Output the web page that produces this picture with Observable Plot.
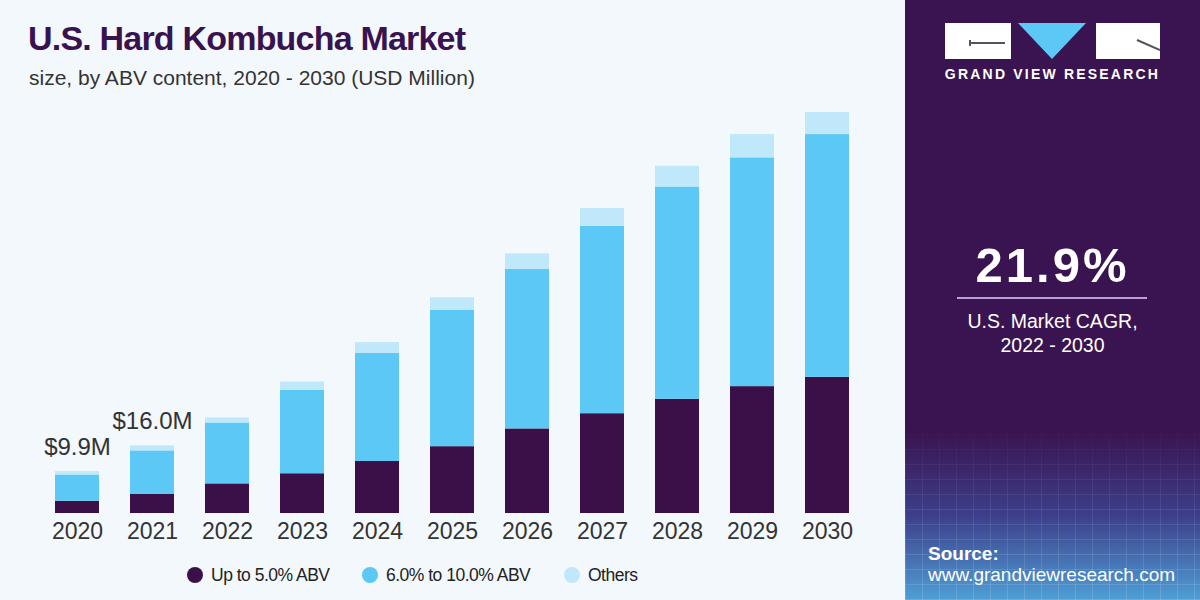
<!DOCTYPE html>
<html>
<head>
<meta charset="utf-8">
<script src="https://cdn.jsdelivr.net/npm/d3@7"></script>
<script src="https://cdn.jsdelivr.net/npm/@observablehq/plot@0.6"></script>
<style>
  html, body { margin: 0; padding: 0; }
  body { width: 1200px; height: 600px; overflow: hidden; font-family: "Liberation Sans", Arial, sans-serif; }
  #left { position: absolute; left: 0; top: 0; width: 905px; height: 600px; background: #f3f8fc; }
  #right { position: absolute; left: 905px; top: 0; width: 295px; height: 600px;
    background: linear-gradient(180deg, #3a1450 0%, #3a1450 72%, #3d3f8c 86%, #4f9fd6 100%); overflow: hidden; }
  #grid { position: absolute; left: 0; right: 0; top: 420px; bottom: 0;
    background:
      repeating-linear-gradient(90deg, rgba(255,255,255,0.14) 0 1px, transparent 1px 17px),
      repeating-linear-gradient(0deg, rgba(255,255,255,0.14) 0 1px, transparent 1px 15px);
    -webkit-mask-image: linear-gradient(180deg, transparent 0%, rgba(0,0,0,0.5) 40%, #000 100%);
    mask-image: linear-gradient(180deg, transparent 0%, rgba(0,0,0,0.5) 40%, #000 100%); }
  #title { position: absolute; left: 28px; top: 19px; font-size: 34px; font-weight: bold; color: #3a1250; letter-spacing: -0.8px; line-height: 38px; white-space: nowrap; }
  #subtitle { position: absolute; left: 29px; top: 66px; font-size: 21px; color: #333; line-height: 24px; white-space: nowrap; }
  #chart { position: absolute; left: 0; top: 95px; }
  #legend { position: absolute; left: 0; width: 905px; top: 563px; height: 24px; }
  .lg { position: absolute; top: 0; display: flex; align-items: center; font-size: 17.5px; color: #222; letter-spacing: -0.5px; white-space: nowrap; line-height: 24px; }
  .dot { width: 16px; height: 16px; border-radius: 50%; margin-right: 8px; }
  #logo { position: absolute; left: 0; top: 0; width: 295px; height: 100px; }
  .wr { position: absolute; background: #fff; top: 23px; height: 36px; }
  #brand { position: absolute; left: 0; width: 295px; top: 66px; text-align: center; color: #fff; font-weight: bold; font-size: 14px; letter-spacing: 2.2px; }
  #cagr { position: absolute; left: 0; width: 295px; top: 237px; text-align: center; color: #fff; font-weight: bold; font-size: 49px; letter-spacing: 3px; line-height: 56px; }
  #rule { position: absolute; left: 52px; width: 190px; top: 297px; height: 2px; background: #b9a2d2; }
  #cagrtxt { position: absolute; left: 0; width: 295px; top: 309px; text-align: center; color: #fff; font-size: 19.5px; line-height: 24px; }
  #source { position: absolute; left: 23px; top: 543px; color: #fff; font-size: 19px; line-height: 21px; }
</style>
</head>
<body>
<div id="left">
  <div id="title">U.S. Hard Kombucha Market</div>
  <div id="subtitle">size, by ABV content, 2020 - 2030 (USD Million)</div>
  <div id="chart"></div>
  <div id="legend"></div>
</div>
<div id="right">
  <div id="grid"></div>
  <div id="logo">
    <div class="wr" style="left:40px;width:66px;">
      <div style="position:absolute;left:25px;top:19px;width:35px;height:2px;background:#555;"></div>
      <div style="position:absolute;left:24px;top:17px;width:2px;height:6px;background:#555;"></div>
    </div>
    <svg style="position:absolute;left:113px;top:23px;" width="68" height="37"><polygon points="0,0 68,0 34,36" fill="#5bc8f5"/></svg>
    <div class="wr" style="left:191px;width:64px;">
      <svg style="position:absolute;left:0;top:0;" width="64" height="36"><line x1="41" y1="17" x2="64" y2="27" stroke="#555" stroke-width="2"/></svg>
    </div>
    <div id="brand">GRAND VIEW RESEARCH</div>
  </div>
  <div id="cagr">21.9%</div>
  <div id="rule"></div>
  <div id="cagrtxt">U.S. Market CAGR,<br>2022 - 2030</div>
  <div id="source"><b>Source:</b><br>www.grandviewresearch.com</div>
</div>
<script>
// ---- data (USD Million) ----
const years = ["2020","2021","2022","2023","2024","2025","2026","2027","2028","2029","2030"];
const seriesNames = ["Up to 5.0% ABV", "6.0% to 10.0% ABV", "Others"];
const seriesColors = ["#3b1049", "#5bc8f5", "#bfe8fa"];
const upTo5 =   [2.9, 4.5, 7.0, 9.4, 12.3, 15.8, 20.0, 23.6, 27.0, 30.0, 32.2];
const sixTo10 = [6.2, 10.3, 14.4, 19.7, 25.6, 32.2, 37.7, 44.3, 50.2, 54.1, 57.4];
const others =  [0.8, 1.2, 1.2, 2.0, 2.5, 3.0, 3.7, 4.2, 4.9, 5.5, 5.2];
const labelYears = ["2020", "2021"];
const labelTexts = ["$9.9M", "$16.0M"];

const seriesValues = [upTo5, sixTo10, others];
const rows = [];
seriesNames.forEach((s, si) => {
  years.forEach((y, i) => rows.push({year: y, series: s, value: seriesValues[si][i]}));
});
const totals = years.map((y, i) => upTo5[i] + sixTo10[i] + others[i]);
const labels = labelYears.map((y, k) => ({year: y, total: totals[years.indexOf(y)], text: labelTexts[k]}));

const chart = Plot.plot({
  width: 905,
  height: 460,
  marginLeft: 39,
  marginRight: 40,
  marginTop: 12,
  marginBottom: 42,
  style: {background: "transparent", fontFamily: "Liberation Sans, Arial, sans-serif", overflow: "visible"},
  x: {type: "band", domain: years, paddingInner: 0.42, paddingOuter: 0.21, label: null},
  y: {domain: [0, 96], axis: null},
  color: {domain: seriesNames, range: seriesColors},
  marks: [
    Plot.barY(rows, {x: "year", y: "value", fill: "series", z: "series"}),
    Plot.text(labels, {x: "year", y: "total", text: "text", dy: -17, lineAnchor: "bottom", fontSize: 24, fill: "#333"}),
    Plot.axisX({tickSize: 0, tickPadding: 9, fontSize: 23, fill: "#333", label: null})
  ]
});
document.getElementById("chart").appendChild(chart);

// legend built from the series arrays
const legendX = [187, 362, 564];
const legend = document.getElementById("legend");
seriesNames.forEach((s, i) => {
  const item = document.createElement("div");
  item.className = "lg";
  item.style.left = legendX[i] + "px";
  const dot = document.createElement("div");
  dot.className = "dot";
  dot.style.background = seriesColors[i];
  item.appendChild(dot);
  const t = document.createElement("span");
  t.textContent = s;
  item.appendChild(t);
  legend.appendChild(item);
});
</script>
</body>
</html>
